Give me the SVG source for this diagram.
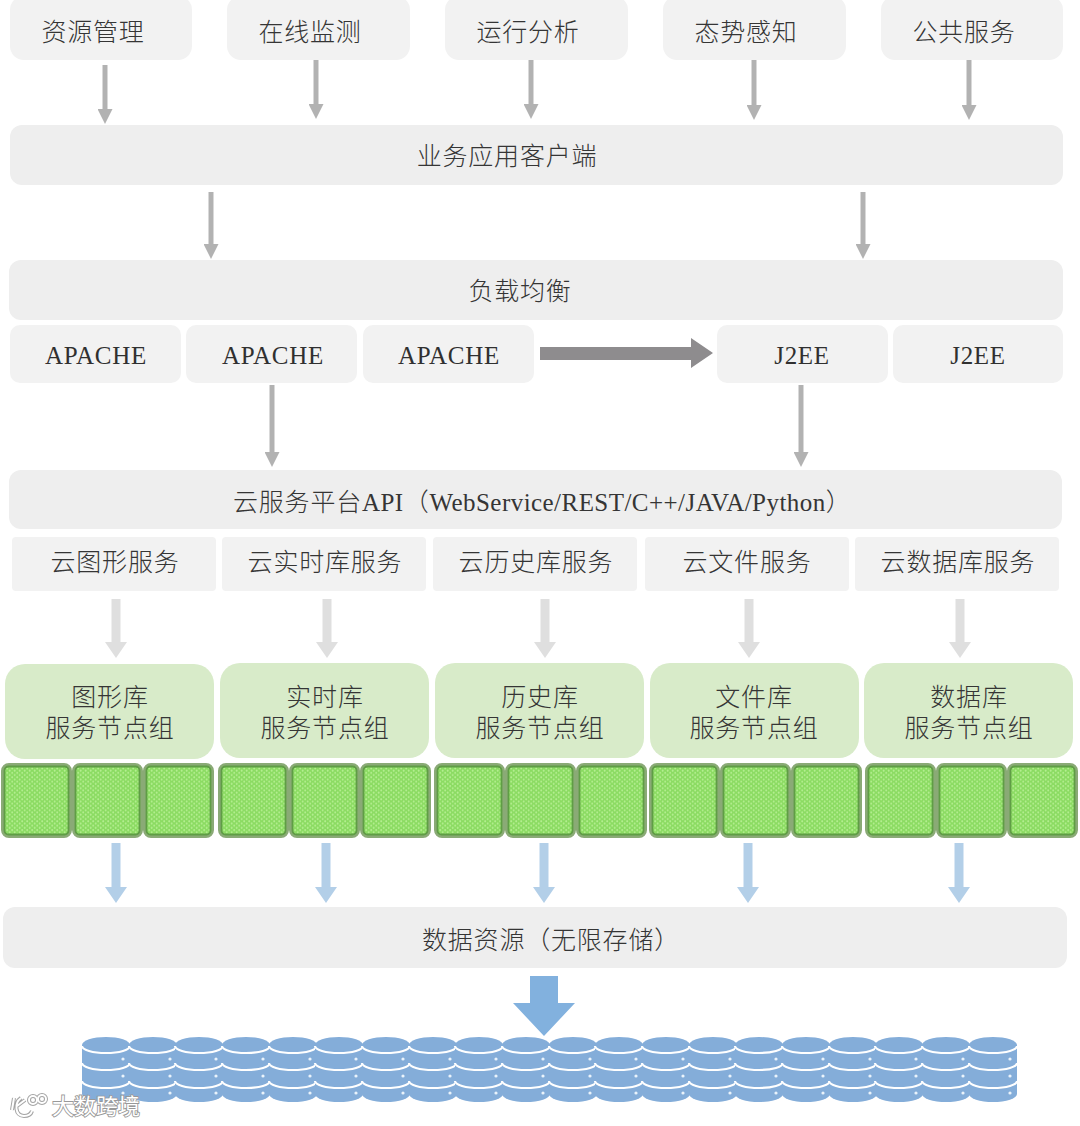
<svg xmlns="http://www.w3.org/2000/svg" width="1080" height="1126" viewBox="0 0 1080 1126">
<style>
.box{fill:#f2f2f2}
.bar{fill:#eeeeee}
.green{fill:#d8ebc9}
.t{font-family:"Liberation Serif","Noto Sans CJK SC",serif;font-size:25px;letter-spacing:.7px;fill:#303030;text-anchor:middle}
.c{font-family:"Noto Sans CJK SC",sans-serif;font-size:25px;letter-spacing:.8px;fill:#353535;text-anchor:middle;font-weight:300}
.a{text-anchor:start}
.l{font-family:"Liberation Serif",serif;letter-spacing:.45px;font-weight:400}
.g1{stroke:#b2b2b2;stroke-width:5;fill:none;marker-end:url(#hg1)}
.g2{stroke:#dfdfdf;stroke-width:9;fill:none;marker-end:url(#hg2)}
.b1{stroke:#b3cfe8;stroke-width:9;fill:none;marker-end:url(#hb1)}
.dbb{fill:#84add9}
.dbl{fill:none;stroke:#fff;stroke-width:2.2}
.wm{font-family:"Noto Sans CJK SC",sans-serif;font-size:22px;fill:#fff;stroke:#999;stroke-width:1.800;paint-order:stroke}
.wo{fill:none;stroke:#a4a4a4;stroke-width:4}
.wi{fill:none;stroke:#fff;stroke-width:2}
</style>
<defs>
<marker id="hg1" markerUnits="userSpaceOnUse" markerWidth="15" markerHeight="15" refX="0" refY="7.500" orient="auto"><path d="M0 0L15 7.500L0 15Z" fill="#b2b2b2"/></marker>
<marker id="hg2" markerUnits="userSpaceOnUse" markerWidth="16" markerHeight="22" refX="0" refY="11" orient="auto"><path d="M0 0L16 11L0 22Z" fill="#dfdfdf"/></marker>
<marker id="hb1" markerUnits="userSpaceOnUse" markerWidth="16" markerHeight="22" refX="0" refY="11" orient="auto"><path d="M0 0L16 11L0 22Z" fill="#b3cfe8"/></marker>
<pattern id="dots" width="5" height="4.400" patternUnits="userSpaceOnUse">
<rect width="5" height="4.400" fill="#8bdb62"/>
<circle cx="1.200" cy="1.100" r="1" fill="#b3ee8f"/>
<circle cx="3.700" cy="3.300" r="1" fill="#b3ee8f"/>
</pattern>
<g id="cell">
<rect x="2" y="2" width="67" height="71" rx="6" fill="url(#dots)" stroke="#8aaa76" stroke-width="4"/>
<rect x="3.500" y="3.500" width="64" height="68" rx="4" fill="none" stroke="#5f9d45" stroke-width="1.800"/>
</g>
<g id="triple"><use href="#cell" x="0"/><use href="#cell" x="71"/><use href="#cell" x="142"/></g>
<g id="db">
<path class="dbb" d="M0 8A24 8 0 0 1 48 8V57A24 8 0 0 1 0 57Z"/>
<path class="dbl" d="M0 9A24 7 0 0 0 48 9M0 26A24 7 0 0 0 48 26M0 44A24 7 0 0 0 48 44"/>
<circle cx="41" cy="22" r="1.600" fill="#eaf3fb"/><circle cx="41" cy="39" r="1.600" fill="#eaf3fb"/><circle cx="41" cy="56" r="1.600" fill="#eaf3fb"/>
</g>
<g id="logo">
<path d="M14 1098L12 1110M21 1098C14 1103 15 1116 24 1116C28 1116 31 1114 32 1111M17 1106L25 1100"/>
<circle cx="33" cy="1100" r="4"/><circle cx="42" cy="1099" r="4"/>
</g>
</defs>

<g id="n-res"><rect class="box" x="10" y="-4" width="182" height="64" rx="14"/><text class="c" x="93" y="41">资源管理</text></g>
<g id="n-mon"><rect class="box" x="227" y="-4" width="183" height="64" rx="14"/><text class="c" x="310" y="41">在线监测</text></g>
<g id="n-ana"><rect class="box" x="445" y="-4" width="183" height="64" rx="14"/><text class="c" x="528" y="41">运行分析</text></g>
<g id="n-sit"><rect class="box" x="663" y="-4" width="183" height="64" rx="14"/><text class="c" x="746" y="41">态势感知</text></g>
<g id="n-pub"><rect class="box" x="881" y="-4" width="182" height="64" rx="14"/><text class="c" x="964" y="41">公共服务</text></g>

<g id="n-client"><rect class="bar" x="10" y="125" width="1053" height="60" rx="12"/><text class="c" x="507" y="165">业务应用客户端</text></g>
<g id="n-lb"><rect class="bar" x="9" y="260" width="1054" height="60" rx="12"/><text class="c" x="520" y="300">负载均衡</text></g>

<g id="n-ap1"><rect class="box" x="10" y="325" width="171" height="58" rx="10"/><text class="t" x="96" y="364">APACHE</text></g>
<g id="n-ap2"><rect class="box" x="186" y="325" width="171" height="58" rx="10"/><text class="t" x="273" y="364">APACHE</text></g>
<g id="n-ap3"><rect class="box" x="363" y="325" width="171" height="58" rx="10"/><text class="t" x="449" y="364">APACHE</text></g>
<g id="n-j1"><rect class="box" x="717" y="325" width="171" height="58" rx="10"/><text class="t" x="802" y="364">J2EE</text></g>
<g id="n-j2"><rect class="box" x="893" y="325" width="170" height="58" rx="10"/><text class="t" x="978" y="364">J2EE</text></g>

<g id="n-api"><rect class="bar" x="9" y="470" width="1053" height="59" rx="12"/><text class="c a" x="233" y="511">云服务平台<tspan class="l">API</tspan>（<tspan class="l">WebService/REST/C++/JAVA/Python</tspan>）</text></g>

<g id="n-s1"><rect class="box" x="12" y="537" width="204" height="54" rx="4"/><text class="c" x="115" y="571">云图形服务</text></g>
<g id="n-s2"><rect class="box" x="222" y="537" width="204" height="54" rx="4"/><text class="c" x="325" y="571">云实时库服务</text></g>
<g id="n-s3"><rect class="box" x="433" y="537" width="204" height="54" rx="4"/><text class="c" x="536" y="571">云历史库服务</text></g>
<g id="n-s4"><rect class="box" x="645" y="537" width="204" height="54" rx="4"/><text class="c" x="747" y="571">云文件服务</text></g>
<g id="n-s5"><rect class="box" x="855" y="537" width="204" height="54" rx="4"/><text class="c" x="958" y="571">云数据库服务</text></g>

<g id="n-g1"><rect class="green" x="5" y="664" width="209" height="95" rx="20"/><text class="c" y="706"><tspan x="110">图形库</tspan><tspan x="110" dy="31">服务节点组</tspan></text></g>
<g id="n-g2"><rect class="green" x="220" y="663" width="209" height="95" rx="20"/><text class="c" y="706"><tspan x="325">实时库</tspan><tspan x="325" dy="31">服务节点组</tspan></text></g>
<g id="n-g3"><rect class="green" x="435" y="663" width="209" height="95" rx="20"/><text class="c" y="706"><tspan x="540">历史库</tspan><tspan x="540" dy="31">服务节点组</tspan></text></g>
<g id="n-g4"><rect class="green" x="650" y="663" width="209" height="95" rx="20"/><text class="c" y="706"><tspan x="754">文件库</tspan><tspan x="754" dy="31">服务节点组</tspan></text></g>
<g id="n-g5"><rect class="green" x="864" y="663" width="209" height="95" rx="20"/><text class="c" y="706"><tspan x="969">数据库</tspan><tspan x="969" dy="31">服务节点组</tspan></text></g>

<g id="n-c1"><use href="#triple" x="1" y="763"/></g>
<g id="n-c2"><use href="#triple" x="218" y="763"/></g>
<g id="n-c3"><use href="#triple" x="434" y="763"/></g>
<g id="n-c4"><use href="#triple" x="649" y="763"/></g>
<g id="n-c5"><use href="#triple" x="865" y="763"/></g>

<g id="n-data"><rect class="bar" x="3" y="907" width="1064" height="61" rx="12"/><text class="c" x="551" y="949">数据资源（无限存储）</text></g>

<g id="n-store">
<use href="#db" x="82" y="1037"/><use href="#db" x="129" y="1037"/><use href="#db" x="175" y="1037"/><use href="#db" x="222" y="1037"/><use href="#db" x="269" y="1037"/>
<use href="#db" x="315" y="1037"/><use href="#db" x="362" y="1037"/><use href="#db" x="409" y="1037"/><use href="#db" x="455" y="1037"/><use href="#db" x="502" y="1037"/>
<use href="#db" x="549" y="1037"/><use href="#db" x="595" y="1037"/><use href="#db" x="642" y="1037"/><use href="#db" x="689" y="1037"/><use href="#db" x="735" y="1037"/>
<use href="#db" x="782" y="1037"/><use href="#db" x="829" y="1037"/><use href="#db" x="875" y="1037"/><use href="#db" x="922" y="1037"/><use href="#db" x="969" y="1037"/>
</g>

<g id="connectors">
<path class="g1" d="M105 65V109"/><path class="g1" d="M316 60V104"/><path class="g1" d="M531 60V104"/><path class="g1" d="M754 60V105"/><path class="g1" d="M969 60V105"/>
<path class="g1" d="M211 192V244"/><path class="g1" d="M863 192V244"/>
<path class="g1" d="M272 385V452"/><path class="g1" d="M801 385V452"/>
<path d="M540 347H691V338L713 353L691 368V360H540Z" fill="#8e8c8e"/>
<path class="g2" d="M116 599V642"/><path class="g2" d="M327 599V642"/><path class="g2" d="M545 599V642"/><path class="g2" d="M749 599V642"/><path class="g2" d="M960 599V642"/>
<path class="b1" d="M116 843V887"/><path class="b1" d="M326 843V887"/><path class="b1" d="M544 843V887"/><path class="b1" d="M748 843V887"/><path class="b1" d="M959 843V887"/>
<path d="M530 976H558V1003H575L544 1036L513 1003H530Z" fill="#82b1de"/>
</g>

<g id="watermark">
<use href="#logo" class="wo"/><use href="#logo" class="wi"/>
<text class="wm" x="52" y="1114">大数跨境</text>
</g>
</svg>
